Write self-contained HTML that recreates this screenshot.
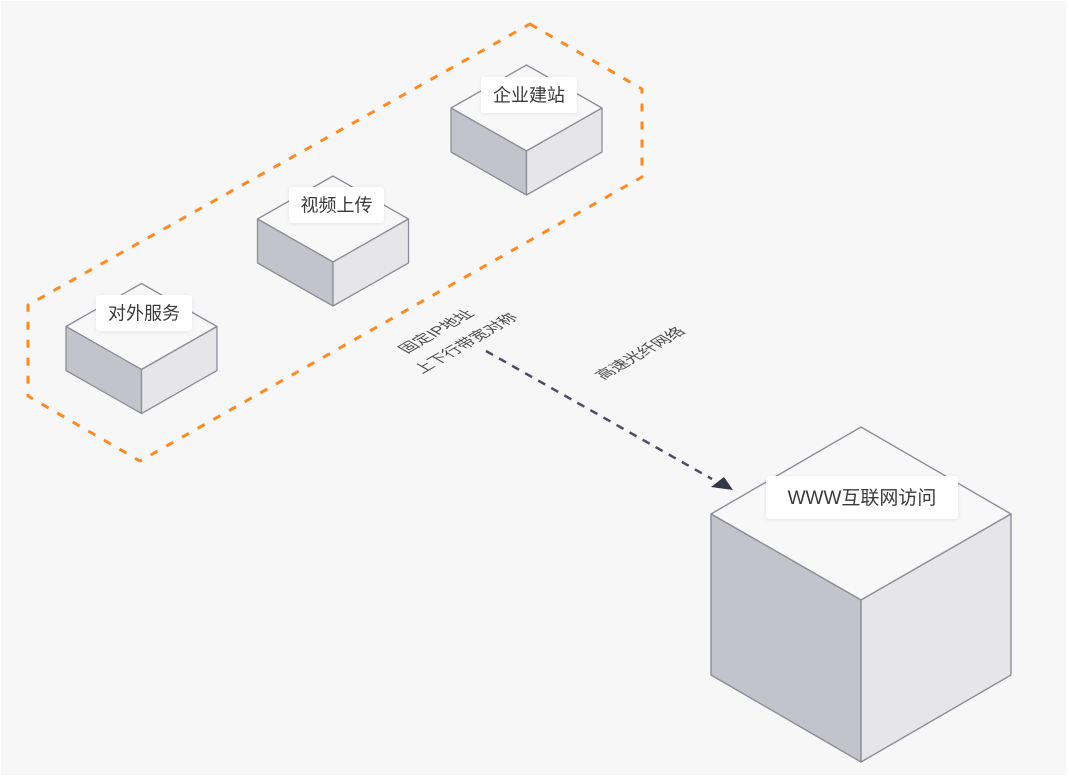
<!DOCTYPE html>
<html>
<head>
<meta charset="utf-8">
<style>
html,body{margin:0;padding:0;background:#fff;}
svg{display:block;}
text{font-family:"Liberation Sans","Noto Sans CJK SC",sans-serif;}
</style>
</head>
<body>
<svg width="1069" height="781" viewBox="0 0 1069 781" xmlns="http://www.w3.org/2000/svg">
<defs>
<filter id="sh" x="-20%" y="-30%" width="140%" height="160%">
<feDropShadow dx="0" dy="1" stdDeviation="2" flood-color="#000" flood-opacity="0.08"/>
</filter>
</defs>
<rect x="0" y="0" width="1069" height="781" fill="#ffffff"/>
<rect x="1" y="1" width="1065" height="774" fill="#f7f7f7"/>

<!-- orange dashed hexagon -->
<polygon points="530,24 642,89 642,177 140,461 28,396 28,305" fill="none" stroke="#fb8a24" stroke-width="3" stroke-dasharray="8 10" stroke-linejoin="round"/>

<!-- cube A 企业建站 -->
<g stroke="#8e8e99" stroke-width="1.3" stroke-linejoin="round">
<polygon points="526.5,65 602,108 526.5,151 451,108" fill="#f8f8f9"/>
<polygon points="451,108 526.5,151 526.5,195 451,152" fill="#c3c3cb"/>
<polygon points="526.5,151 602,108 602,152 526.5,195" fill="#e6e6ea"/>
</g>
<rect x="481" y="77" width="96" height="36" rx="3" fill="#fff" filter="url(#sh)"/>
<text x="529" y="101.5" font-size="18" fill="#3a3a3a" text-anchor="middle">企业建站</text>

<!-- cube B 视频上传 -->
<g stroke="#8e8e99" stroke-width="1.3" stroke-linejoin="round">
<polygon points="333,176 408.5,219 333,262 257.5,219" fill="#f8f8f9"/>
<polygon points="257.5,219 333,262 333,306 257.5,263" fill="#c3c3cb"/>
<polygon points="333,262 408.5,219 408.5,263 333,306" fill="#e6e6ea"/>
</g>
<rect x="289" y="187" width="95" height="36" rx="3" fill="#fff" filter="url(#sh)"/>
<text x="336.5" y="211.5" font-size="18" fill="#3a3a3a" text-anchor="middle">视频上传</text>

<!-- cube C 对外服务 -->
<g stroke="#8e8e99" stroke-width="1.3" stroke-linejoin="round">
<polygon points="141.5,283.5 217,326.5 141.5,369.5 66,326.5" fill="#f8f8f9"/>
<polygon points="66,326.5 141.5,369.5 141.5,413.5 66,370.5" fill="#c3c3cb"/>
<polygon points="141.5,369.5 217,326.5 217,370.5 141.5,413.5" fill="#e6e6ea"/>
</g>
<rect x="96" y="295" width="96" height="36" rx="3" fill="#fff" filter="url(#sh)"/>
<text x="144" y="319.5" font-size="18" fill="#3a3a3a" text-anchor="middle">对外服务</text>

<!-- big cube -->
<g stroke="#8e8e99" stroke-width="1.4" stroke-linejoin="round">
<polygon points="861,427 1011,514 861,600 711,514" fill="#f8f8f9"/>
<polygon points="711,514 861,600 861,762 711,675" fill="#c3c3cb"/>
<polygon points="861,600 1011,514 1011,675 861,762" fill="#e6e6ea"/>
</g>

<!-- dashed arrow -->
<line x1="486" y1="351" x2="712" y2="479" stroke="#4b4e63" stroke-width="2.5" stroke-dasharray="8 7"/>
<polygon points="733,490 711,487 724,477" fill="#33364a"/>

<rect x="766" y="476" width="192" height="43" rx="3" fill="#fff" filter="url(#sh)"/>
<text x="862" y="504" font-size="19" fill="#3a3a3a" text-anchor="middle">WWW互联网访问</text>

<!-- iso ground labels -->
<text transform="matrix(0.866 -0.5 0.866 0.5 441 334)" font-size="16" fill="#4a4a4a" text-anchor="middle">固定IP地址</text>
<text transform="matrix(0.866 -0.5 0.866 0.5 470.5 346)" font-size="16" fill="#4a4a4a" text-anchor="middle">上下行带宽对称</text>
<text transform="matrix(0.866 -0.5 0.866 0.5 645 356)" font-size="16" fill="#4a4a4a" text-anchor="middle">高速光纤网络</text>
</svg>
</body>
</html>
